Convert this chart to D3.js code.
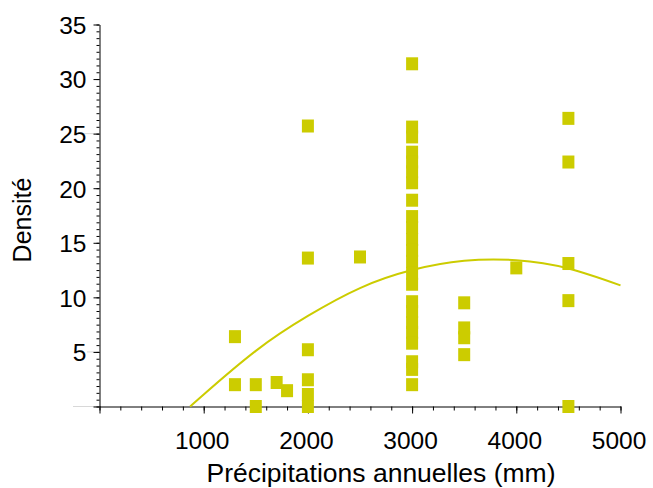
<!DOCTYPE html>
<html>
<head>
<meta charset="utf-8">
<script src="https://cdn.jsdelivr.net/npm/d3@7/dist/d3.min.js"></script>
<style>
  html, body { margin: 0; padding: 0; background: #fff; }
  svg { display: block; font-family: "Liberation Sans", Arial, sans-serif; }
</style>
</head>
<body>
<svg id="chart" width="653" height="488"></svg>
<script>
// ---- data ----
const precipitation = [
  1300, 1300,
  1500, 1500,
  1700,
  1800,
  2000, 2000, 2000, 2000, 2000, 2000,
  2500,
  3000, 3000, 3000, 3000, 3000, 3000, 3000, 3000, 3000, 3000, 3000, 3000,
  3000, 3000, 3000, 3000, 3000, 3000, 3000, 3000, 3000, 3000, 3000,
  3500, 3500, 3500, 3500,
  4000,
  4500, 4500, 4500, 4500, 4500
];
const density = [
  6.4, 2.0,
  2.0, 0,
  2.2,
  1.45,
  25.7, 13.6, 5.2, 2.45, 1.1, 0,
  13.7,
  31.4, 25.6, 24.7, 23.3, 22.4, 21.5, 20.5, 18.9, 17.4, 16.4, 15.3, 14.3,
  13.3, 12.2, 11.2, 9.6, 8.7, 7.7, 6.8, 5.8, 4.1, 3.4, 2.0,
  9.5, 7.2, 6.3, 4.75,
  12.7,
  26.4, 22.4, 13.1, 9.7, 0
];
// trend curve
const trendX = [870, 1000, 1500, 2000, 2500, 3000, 3500, 4000, 4500, 5000];
const trendY = [0, 1.1, 5.1, 8.3, 10.85, 12.5, 13.35, 13.4, 12.65, 11.1];

const xTicks = [1000, 2000, 3000, 4000, 5000];
const yTicks = [5, 10, 15, 20, 25, 30, 35];
const xTitle = "Précipitations annuelles (mm)";
const yTitle = "Densité";

// ---- drawing ----
const color = "#cccc00";
const svg = d3.select("#chart");
const x = d3.scaleLinear().domain([0, 5000]).range([99.5, 620.5]);
const y = d3.scaleLinear().domain([0, 35]).range([406.5, 24.5]);

// faint grey marks left of the axis
[[25, 83], [5, 87], [0, 73]].forEach(([v, x0]) => {
  svg.append("line").attr("x1", x0).attr("x2", 99).attr("y1", y(v)).attr("y2", y(v))
    .attr("stroke", "#d8d8d8").attr("stroke-width", 1);
});

// minor ticks
const xMinor = d3.range(0, 5001, 200);
const yMinor = d3.range(0, 35.001, 5 / 8);
svg.append("g").attr("transform", `translate(0,${y(0)})`)
  .call(d3.axisBottom(x).tickValues(xMinor).tickSize(4).tickFormat(""))
  .call(g => g.select(".domain").remove())
  .call(g => g.selectAll("line").attr("stroke", "#000"));
svg.append("g").attr("transform", `translate(${x(0)},0)`)
  .call(d3.axisLeft(y).tickValues(yMinor).tickSize(3).tickFormat(""))
  .call(g => g.select(".domain").remove())
  .call(g => g.selectAll("line").attr("stroke", "#000"));

// major x axis
const gx = svg.append("g").attr("transform", `translate(0,${y(0)})`)
  .call(d3.axisBottom(x).tickValues([0].concat(xTicks)).tickSize(7).tickSizeOuter(0)
    .tickFormat(d => d === 0 ? "" : d));
gx.select(".domain").attr("stroke", "#000");
gx.selectAll("line").attr("stroke", "#000");
gx.selectAll("text").attr("font-size", 24.5).attr("fill", "#000")
  .attr("font-family", "Liberation Sans, Arial, sans-serif").attr("y", 0).attr("dy", 0)
  .attr("transform", "translate(-2,42)");

// major y axis
const gy = svg.append("g").attr("transform", `translate(${x(0)},0)`)
  .call(d3.axisLeft(y).tickValues([0].concat(yTicks)).tickSize(6).tickSizeOuter(0)
    .tickFormat(d => d === 0 ? "" : d));
gy.select(".domain").attr("stroke", "#000");
gy.selectAll("line").attr("stroke", "#000");
gy.selectAll("text").attr("font-size", 24.5).attr("fill", "#000")
  .attr("font-family", "Liberation Sans, Arial, sans-serif").attr("x", -13).attr("dy", "0.36em");

// trend curve
const trend = trendX.map((d, i) => [d, trendY[i]]);
svg.append("path").datum(trend)
  .attr("fill", "none").attr("stroke", color).attr("stroke-width", 2)
  .attr("d", d3.line().x(d => x(d[0])).y(d => y(d[1])).curve(d3.curveNatural));

// points
const w = 12, h = 13;
svg.append("g").selectAll("rect").data(precipitation.map((p, i) => [p, density[i]]))
  .join("rect")
  .attr("x", d => x(d[0]) - w / 2)
  .attr("y", d => y(d[1]) - h / 2)
  .attr("width", w).attr("height", h)
  .attr("fill", color);

// titles
svg.append("text").attr("x", 381).attr("y", 482).attr("text-anchor", "middle")
  .attr("font-size", 26.5).attr("fill", "#000").text(xTitle);
svg.append("text").attr("transform", "translate(31,220) rotate(-90)")
  .attr("text-anchor", "middle").attr("font-size", 25).attr("fill", "#000").text(yTitle);
</script>
</body>
</html>
